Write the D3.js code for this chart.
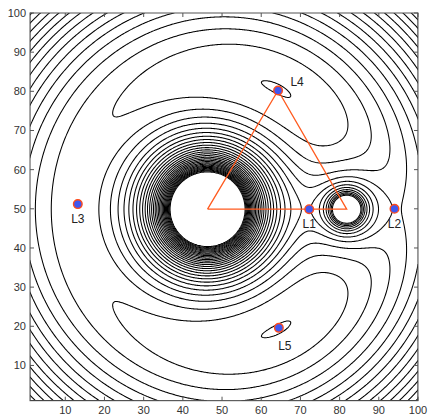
<!DOCTYPE html>
<html>
<head>
<meta charset="utf-8">
<script src="https://cdn.jsdelivr.net/npm/d3@7"></script>
<style>
  body { margin: 0; background: #fff; }
  text { font-family: "Liberation Sans", Arial, sans-serif; }
</style>
</head>
<body>
<svg id="chart" width="428" height="416"></svg>
<script>
// Axis ticks (grid index units)
const xTicks = [10, 20, 30, 40, 50, 60, 70, 80, 90, 100];
const yTicks = [10, 20, 30, 40, 50, 60, 70, 80, 90, 100];

// Two-body system in the rotating frame (grid index units)
const massRatio = 0.1;
const bodyX = [46.3, 81.8];
const bodyY = [49.9, 49.9];
const bodyRadius = [9.44, 3.45];

// Lagrange points
const lagrangeNames = ["L1", "L2", "L3", "L4", "L5"];
const lagrangeX = [72.25, 94.0, 13.2, 64.3, 64.5];
const lagrangeY = [49.9, 50.0, 51.2, 80.2, 19.6];

// Contour levels of the effective potential
const levelStart = 1.4565;
const levelStep = 0.07;
const levelCount = 30;
const levels = d3.range(levelCount).map(i => levelStart + i * levelStep);

const width = 428, height = 416;
const margin = { left: 30, right: 10, top: 13, bottom: 15.3 };
const svg = d3.select("#chart");

const x = d3.scaleLinear().domain([1, 100]).range([margin.left, width - margin.right]);
const y = d3.scaleLinear().domain([1, 100]).range([height - margin.bottom, margin.top]);

// Effective potential sampled on a fine grid over [1, 100] x [1, 100]
const sub = 4;
const n = 99 * sub + 1;
const unit = bodyX[1] - bodyX[0];
const cmX = bodyX[0] + massRatio * unit;
const cmY = bodyY[0];
const r1min = bodyRadius[0] / unit, r2min = bodyRadius[1] / unit;
const values = new Float64Array(n * n);
for (let j = 0; j < n; j++) {
  const gy = 1 + j / sub;
  for (let i = 0; i < n; i++) {
    const gx = 1 + i / sub;
    const px = (gx - cmX) / unit, py = (gy - cmY) / unit;
    const d1x = (gx - bodyX[0]) / unit, d1y = (gy - bodyY[0]) / unit;
    const d2x = (gx - bodyX[1]) / unit, d2y = (gy - bodyY[1]) / unit;
    const r1 = Math.max(Math.hypot(d1x, d1y), r1min);
    const r2 = Math.max(Math.hypot(d2x, d2y), r2min);
    values[j * n + i] = 0.5 * (px * px + py * py) + (1 - massRatio) / r1 + massRatio / r2;
  }
}

const contours = d3.contours().size([n, n]).thresholds(levels)(values);
const toGrid = c => 1 + (c - 0.5) / sub;
const path = d3.geoPath(d3.geoTransform({
  point(cx, cy) { this.stream.point(x(toGrid(cx)), y(toGrid(cy))); }
}));

svg.append("clipPath").attr("id", "plot-clip")
  .append("rect")
  .attr("x", x(1)).attr("y", y(100))
  .attr("width", x(100) - x(1)).attr("height", y(1) - y(100));

svg.append("g").attr("clip-path", "url(#plot-clip)")
  .selectAll("path").data(contours).join("path")
  .attr("d", path)
  .attr("fill", "none")
  .attr("stroke", "#000")
  .attr("stroke-width", 1.05);

// Triangle joining the primary, the L4 point and the secondary
const tri = [[bodyX[0], bodyY[0]], [lagrangeX[3], lagrangeY[3]], [bodyX[1], bodyY[1]], [bodyX[0], bodyY[0]]];
svg.append("path")
  .attr("d", d3.line().x(d => x(d[0])).y(d => y(d[1]))(tri))
  .attr("fill", "none").attr("stroke", "#ff5a1e").attr("stroke-width", 1.3);

// Axes box with inward ticks
const axisColor = "#555";
svg.append("rect")
  .attr("x", x(1)).attr("y", y(100))
  .attr("width", x(100) - x(1)).attr("height", y(1) - y(100))
  .attr("fill", "none").attr("stroke", axisColor).attr("stroke-width", 1);

const tickLen = 4;
const gt = svg.append("g").attr("stroke", axisColor).attr("stroke-width", 1);
xTicks.forEach(t => {
  gt.append("line").attr("x1", x(t)).attr("x2", x(t)).attr("y1", y(1)).attr("y2", y(1) - tickLen);
  gt.append("line").attr("x1", x(t)).attr("x2", x(t)).attr("y1", y(100)).attr("y2", y(100) + tickLen);
});
yTicks.forEach(t => {
  gt.append("line").attr("y1", y(t)).attr("y2", y(t)).attr("x1", x(1)).attr("x2", x(1) + tickLen);
  gt.append("line").attr("y1", y(t)).attr("y2", y(t)).attr("x1", x(100)).attr("x2", x(100) - tickLen);
});

svg.append("g").selectAll("text").data(xTicks).join("text")
  .attr("x", d => x(d)).attr("y", y(1) + 13)
  .attr("text-anchor", "middle").attr("font-size", 11).attr("fill", "#333")
  .text(d => d);
svg.append("g").selectAll("text").data(yTicks).join("text")
  .attr("x", x(1) - 4).attr("y", d => y(d) + 4)
  .attr("text-anchor", "end").attr("font-size", 11).attr("fill", "#333")
  .text(d => d);

// Lagrange point markers and labels
const labelOffset = [[0, 15], [0, 15], [0, 15], [19, -9], [6, 18]];
const pts = lagrangeNames.map((name, i) => ({ name, gx: lagrangeX[i], gy: lagrangeY[i], off: labelOffset[i] }));
svg.append("g").selectAll("circle").data(pts).join("circle")
  .attr("cx", d => x(d.gx)).attr("cy", d => y(d.gy)).attr("r", 4.3)
  .attr("fill", "#4058f0").attr("stroke", "#ff4a1a").attr("stroke-width", 1.4);
svg.append("g").selectAll("text").data(pts).join("text")
  .attr("x", d => x(d.gx) + d.off[0]).attr("y", d => y(d.gy) + d.off[1] + 4)
  .attr("text-anchor", "middle").attr("font-size", 12).attr("fill", "#222")
  .text(d => d.name);
</script>
</body>
</html>
